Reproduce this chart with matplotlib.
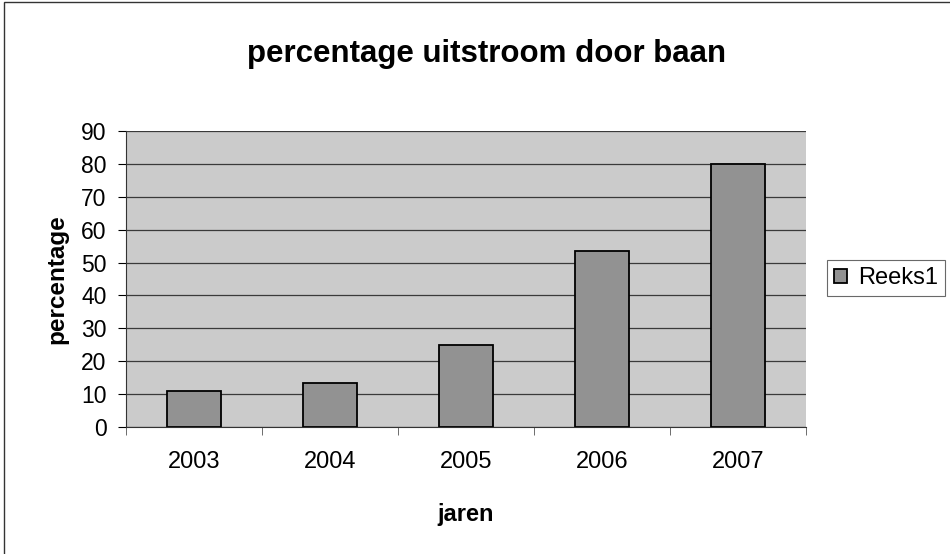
import numpy as np
import matplotlib.pyplot as plt
from matplotlib.patches import Rectangle

plt.rcParams['font.family'] = ['Liberation Sans', 'DejaVu Sans']

# data
jaren = ['2003', '2004', '2005', '2006', '2007']
percentage = [11, 13.5, 25, 53.5, 80]

fig = plt.figure(figsize=(9.5, 5.54), dpi=100)
ax = fig.add_axes([126/950, 1-427/554, (806-126)/950, (427-131)/554])

x = np.arange(len(jaren))
ax.bar(x, percentage, width=0.4, color='#929292', edgecolor='black',
       linewidth=1.3, label='Reeks1', zorder=3)

ax.set_facecolor('#cbcbcb')
ax.set_xlim(-0.5, len(jaren) - 0.5)
ax.set_ylim(0, 90)
ax.set_yticks(np.arange(0, 91, 10))
ax.yaxis.grid(True, color='#3a3a3a', linewidth=0.9, zorder=1)
ax.set_axisbelow(True)
ax.set_xticks(x)
ax.set_xticklabels(jaren)
# tick marks between categories
ax.set_xticks(np.arange(-0.5, len(jaren)), minor=True)
ax.tick_params(axis='x', which='major', length=0, pad=17, labelsize=17)
ax.tick_params(axis='x', which='minor', length=6, color='#555555')
ax.tick_params(axis='y', length=6, labelsize=16.5, pad=8)

for side in ['top', 'right']:
    ax.spines[side].set_visible(False)
ax.spines['left'].set_color('#333333')
ax.spines['bottom'].set_color('#333333')

ax.set_xlabel('jaren', fontsize=17, fontweight='bold', labelpad=22)
ax.set_ylabel('percentage', fontsize=17.5, fontweight='bold', labelpad=9)

fig.suptitle('percentage uitstroom door baan', fontsize=22.5, fontweight='bold',
             x=0.512, y=0.93)

leg = fig.legend(loc='center left', bbox_to_anchor=(827/950, 1-278/554),
                 fontsize=17, frameon=True, fancybox=False,
                 handlelength=0.55, handleheight=0.55, handletextpad=0.45,
                 borderpad=0.3, borderaxespad=0)
leg.get_frame().set_edgecolor('#444444')
leg.get_frame().set_linewidth(0.8)

# chart frame
fig.patches.append(Rectangle((0.004, -0.01), 1.01, 1.006, transform=fig.transFigure,
                             fill=False, edgecolor='#333333', linewidth=1))

plt.savefig('out.png', dpi=100)
